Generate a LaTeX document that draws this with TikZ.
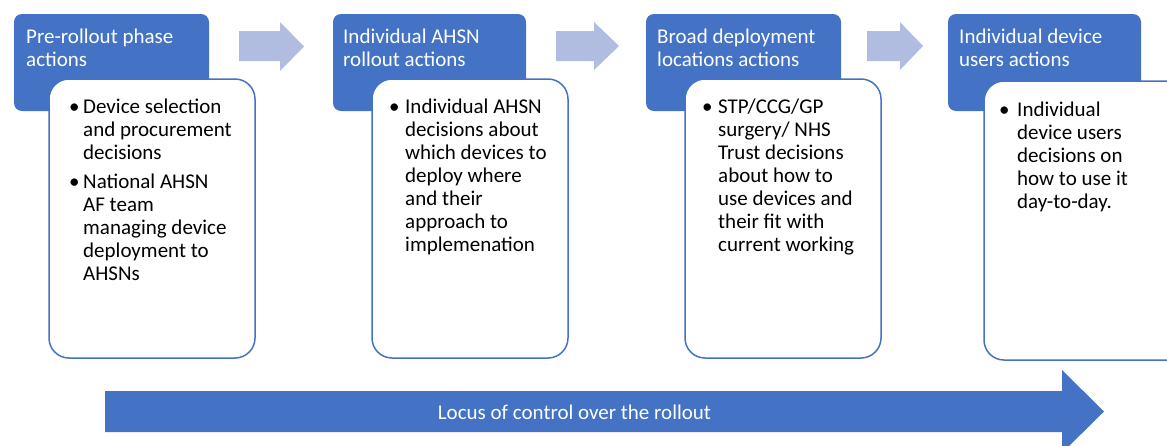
\documentclass[tikz,border=0pt]{standalone}
\usepackage{fontspec}
\setmainfont{Carlito}
\definecolor{hblue}{HTML}{4472C4}
\definecolor{lblue}{RGB}{176,189,225}
\begin{document}
\begin{tikzpicture}[x=1pt,y=-1pt,
  headbox/.style={fill=hblue, draw=none, rounded corners=8pt, anchor=north west,
    inner sep=0pt, outer sep=0pt, minimum height=97pt},
  bodybox/.style={fill=white, draw=hblue, line width=1.5pt, rounded corners=20pt,
    anchor=north west, inner sep=0pt, outer sep=0pt, minimum height=279pt},
  headtxt/.style={anchor=base west, inner sep=0pt, text=white,
    font=\fontsize{21}{23}\selectfont},
  bodytxt/.style={anchor=base west, inner sep=0pt, font=\fontsize{21}{23}\selectfont},
  chevron/.style={fill=lblue, draw=none},
  locus/.style={fill=hblue, draw=none}
]
% bullet set in a box of the given width
\newcommand{\bul}[1]{\makebox[#1][l]{\textbullet}}
\useasboundingbox (0,0) rectangle (1167,445);
\clip (0,0) rectangle (1167,445);

% phase 1
\node[headbox, minimum width=195pt] (h1) at (14,14) {};
\node[headtxt] (t1) at (26,43) {\begin{tabular}[t]{@{}l@{}}Pre-rollout phase\\actions\end{tabular}};
\node[bodybox, minimum width=206pt] (b1) at (49,79) {};
\node[bodytxt] (l1) at (69,113) {\begin{tabular}[t]{@{}l@{}l@{}}
\bul{14pt} & Device selection\\
     & and procurement\\
     & decisions\\[6pt]
\bul{14pt} & National AHSN\\
     & AF team\\
     & managing device\\
     & deployment to\\
     & AHSNs
\end{tabular}};

% phase 2
\node[headbox, minimum width=193pt] (h2) at (333,14) {};
\node[headtxt] (t2) at (343,43) {\begin{tabular}[t]{@{}l@{}}Individual AHSN\\rollout actions\end{tabular}};
\node[bodybox, minimum width=196pt] (b2) at (372,79) {};
\node[bodytxt] (l2) at (389,113) {\begin{tabular}[t]{@{}l@{}l@{}}
\bul{16pt} & Individual AHSN\\
     & decisions about\\
     & which devices to\\
     & deploy where\\
     & and their\\
     & approach to\\
     & implemenation
\end{tabular}};

% phase 3
\node[headbox, minimum width=195pt] (h3) at (646,14) {};
\node[headtxt] (t3) at (657,43) {\begin{tabular}[t]{@{}l@{}}Broad deployment\\locations actions\end{tabular}};
\node[bodybox, minimum width=196pt] (b3) at (685,79) {};
\node[bodytxt] (l3) at (702,113) {\begin{tabular}[t]{@{}l@{}l@{}}
\bul{16pt} & STP/CCG/GP\\
     & surgery/ NHS\\
     & Trust decisions\\
     & about how to\\
     & use devices and\\
     & their fit with\\
     & current working
\end{tabular}};

% phase 4
\node[headbox, minimum width=193pt] (h4) at (948,14) {};
\node[headtxt] (t4) at (959,43) {\begin{tabular}[t]{@{}l@{}}Individual device\\users actions\end{tabular}};
\node[bodybox, minimum width=206pt] (b4) at (984,81) {};
\node[bodytxt] (l4) at (999,116) {\begin{tabular}[t]{@{}l@{}l@{}}
\bul{18pt} & Individual\\
     & device users\\
     & decisions on\\
     & how to use it\\
     & day-to-day.
\end{tabular}};

% arrows between the phases
\fill[chevron] (239,31) -- (280,31) -- (280,22) -- (304,46.5) -- (280,71) -- (280,61) -- (239,61) -- cycle;
\fill[chevron] (556,31) -- (594,31) -- (594,22) -- (619,46) -- (594,70) -- (594,61) -- (556,61) -- cycle;
\fill[chevron] (867,31) -- (900,31) -- (900,22) -- (923,46) -- (900,70) -- (900,61) -- (867,61) -- cycle;

% locus of control arrow
\fill[locus] (105,391) -- (1062,391) -- (1062,370) -- (1104,411.5) -- (1062,453)
  -- (1062,432) -- (105,432) -- cycle;
\node[anchor=base, inner sep=0pt, text=white, font=\fontsize{21}{23}\selectfont]
  (loc) at (574.5,419) {Locus of control over the rollout};
\end{tikzpicture}
\end{document}
